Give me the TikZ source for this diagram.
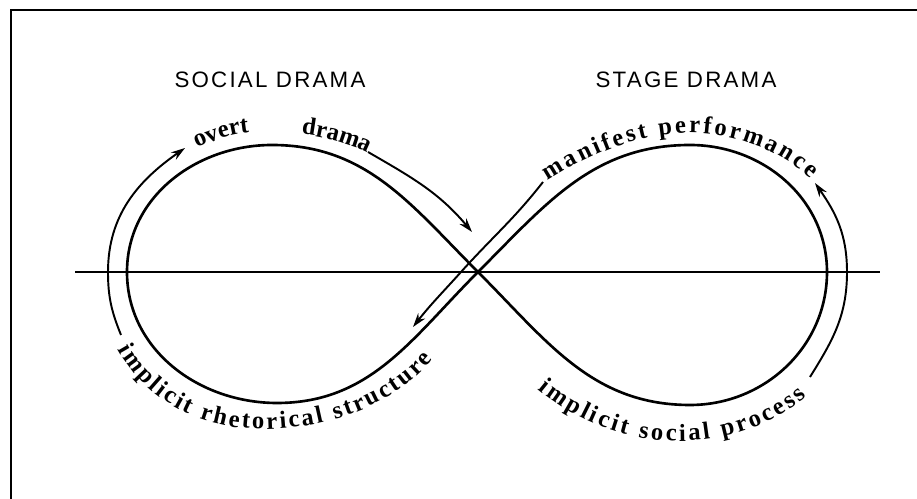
\documentclass[tikz,border=0pt]{standalone}
\usepackage{fontspec}
\usetikzlibrary{arrows.meta,decorations.text}
\newfontfamily\titlefont{Liberation Sans}[LetterSpace=10]
\newfontfamily\curvefont{Liberation Serif}

\begin{document}
\begin{tikzpicture}[x=0.02cm,y=0.02cm,
  loop/.style={line width=1.5pt},
  track/.style={line width=1.1pt,-{Stealth[length=8pt,width=5pt]}},
  curvetext/.style={decorate,decoration={text along path,text align={fit to path},
    text={|\curvefont\bfseries\fontsize{14}{14}\selectfont|#1}}},
  title/.style={font=\titlefont\fontsize{12.7}{14}\selectfont}]
\useasboundingbox (0,0) rectangle (917,499);
\draw[line width=1pt] (11,0) -- (11,489) -- (917,489);
\coordinate (X) at (478,227);
\node[title] (social) at (270,419) {SOCIAL DRAMA};
\node[title] (stage) at (686,419) {STAGE DRAMA};
\draw[line width=1pt] (75,227) -- (880,227);
\draw[loop] (X) to[out=45,in=180] (690,354) to[out=0,in=90] (827,227)
  to[out=-90,in=0] (690,94) to[out=180,in=-45] (X)
  to[out=135,in=0] (272,354) to[out=180,in=90] (127,227)
  to[out=-90,in=180] (277,96) to[out=0,in=-135] (X);
\draw[track] (121,164) to[out=112,in=-90] (108,227) to[out=90,in=-145] (185,351);
\draw[track] (368,347) to[out=-30,in=130] (472,267);
\draw[track] (543,317) to[out=-128,in=48] (461,227) to[out=-132,in=52] (413,172);
\draw[track] (810,122) to[out=58,in=-90] (847,227) to[out=90,in=-55] (815,316);
\path[decorate,decoration={text along path,text align={fit to path stretching spaces},
  text={|\curvefont\bfseries\fontsize{14}{14}\selectfont|overt drama}}]
  (197,351) .. controls (227,365) and (250,368) .. (275,367) .. controls (310,366) and (345,358) .. (368,346);
\path[curvetext=manifest performance]
  (548,318) .. controls (590,345) and (640,366) .. (690,366) .. controls (740,366) and (785,345) .. (810,320);
\path[curvetext=implicit rhetorical structure]
  (118,150) .. controls (150,92) and (210,68) .. (270,70) .. controls (340,72) and (400,100) .. (433,140);
\path[curvetext=implicit social process]
  (538,110) .. controls (580,75) and (630,58) .. (680,58) .. controls (730,58) and (780,78) .. (807,103);
\end{tikzpicture}
\end{document}
